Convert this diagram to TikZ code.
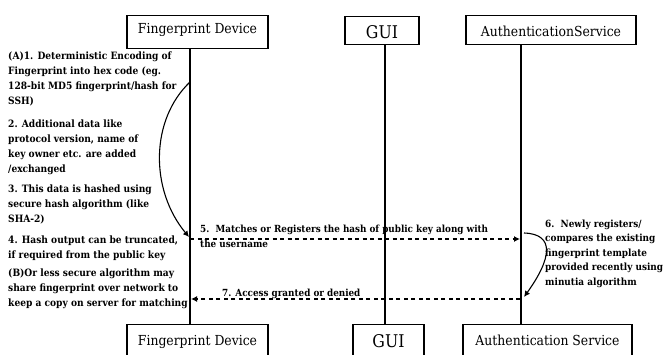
\documentclass[tikz,border=0pt]{standalone}
\usepackage{fontspec}
\setmainfont{DejaVu Serif Condensed}
\usetikzlibrary{arrows.meta}
\tikzset{
  actor/.style={draw, line width=1.1pt, inner sep=0pt, anchor=north, font=\fontsize{13.8}{14}\selectfont},
  guifont/.style={font=\fontsize{17.5}{18}\selectfont},
  life/.style={line width=2.6pt},
  msg/.style={line width=1.2pt, dash pattern=on 4pt off 3.5pt, -{Latex[length=6pt,width=6pt]}},
  loop/.style={line width=1.1pt, -{Latex[length=6pt,width=6pt]}},
  note/.style={align=left, anchor=base west, inner sep=0pt, font=\fontsize{10.1}{15}\selectfont\bfseries},
  small/.style={font=\fontsize{9.9}{14.5}\selectfont\bfseries},
}
\begin{document}
\begin{tikzpicture}[x=1pt,y=-1pt]
\useasboundingbox (0,0) rectangle (663,354);
\clip (0,0) rectangle (663,354);
% top actors
\node[actor, minimum width=141pt, text height=18pt, text depth=15pt] (fdtop) at (197.5,15) {Fingerprint Device};
\node[actor, guifont, minimum width=74pt, text height=22pt, text depth=6pt] (guitop) at (382,16) {GUI};
\node[actor, minimum width=170pt, text height=21pt, text depth=8pt] (astop) at (551,15) {AuthenticationService};
% bottom actors
\node[actor, minimum width=141pt, text height=21pt, text depth=15pt] (fdbot) at (197.5,324) {Fingerprint Device};
\node[actor, guifont, minimum width=71pt, text height=23pt, text depth=13pt] (guibot) at (388.5,324) {GUI};
\node[actor, minimum width=169pt, text height=21pt, text depth=15pt] (asbot) at (547.5,324) {Authentication Service};
% lifelines
\draw[life] (190,48) coordinate (fdl0) -- (190,324) coordinate (fdl1);
\draw[life] (385,44) coordinate (guil0) -- (385,324) coordinate (guil1);
\draw[life] (521,44) coordinate (asl0) -- (521,324) coordinate (asl1);
% left notes (anchor = baseline of last line)
\node[note] (n1) at (8,104) {(A)1. Deterministic Encoding of\\Fingerprint into hex code (eg.\\128-bit MD5 fingerprint/hash for\\SSH)};
\node[note] (n2) at (8,172) {2. Additional data like\\protocol version, name of\\key owner etc. are added\\/exchanged};
\node[note] (n3) at (8,222) {3. This data is hashed using\\secure hash algorithm (like\\SHA-2)};
\node[note] (n4) at (8,258) {4. Hash output can be truncated,\\if required from the public key};
\node[note] (n5) at (8,306) {(B)Or less secure algorithm may\\share fingerprint over network to\\keep a copy on server for matching};
% self loop on device
\coordinate (fdA) at (190,82);
\coordinate (fdB) at (189,237);
\draw[loop] (fdA) .. controls (150,120) and (150,190) .. (fdB);
% message 5
\coordinate (m5a) at (190,239);
\coordinate (m5b) at (520,239);
\draw[msg] (m5a) -- (m5b);
\node[note, font=\fontsize{9.8}{15}\selectfont\bfseries] (l5) at (200,247) {5.\ \ Matches or Registers the hash of public key along with\\the username};
% self loop on service
\coordinate (asA) at (524,233);
\coordinate (asB) at (524,297);
\draw[loop] (asA) .. controls (555,234) and (552,258) .. (asB);
\node[note, small] (l6) at (545,285) {6.\ \ Newly registers/\\compares the existing\\fingerprint template\\provided recently using\\minutia algorithm};
% message 7
\coordinate (m7a) at (520,299);
\coordinate (m7b) at (191,299);
\draw[msg] (m7a) -- (m7b);
\node[note, font=\fontsize{9.8}{15}\selectfont\bfseries] (l7) at (222,296) {7. Access granted or denied};
\end{tikzpicture}
\end{document}
